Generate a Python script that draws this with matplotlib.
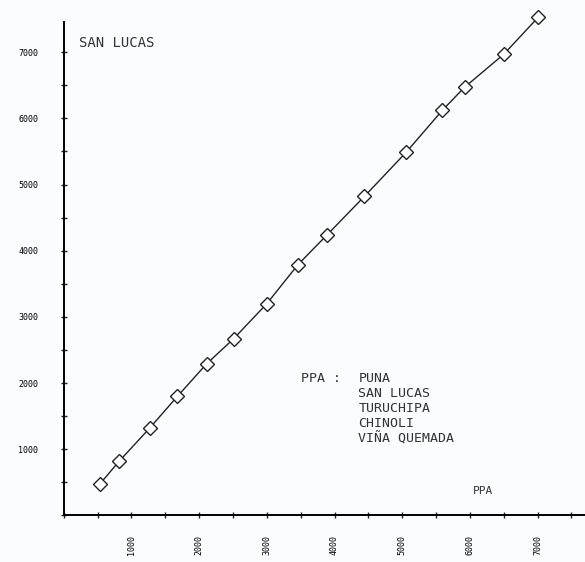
import matplotlib.pyplot as plt
from matplotlib.ticker import MultipleLocator

# PPA readings for San Lucas
ppa_x = [530, 820, 1270, 1680, 2110, 2510, 3000, 3460, 3890, 4440, 5060, 5590, 5920, 6500, 7010]
ppa_y = [470, 820, 1320, 1800, 2290, 2670, 3200, 3790, 4240, 4820, 5490, 6120, 6470, 6970, 7530]

x_ticks = [1000, 2000, 3000, 4000, 5000, 6000, 7000]
y_ticks = [1000, 2000, 3000, 4000, 5000, 6000, 7000]
stations = ["PUNA", "SAN LUCAS", "TURUCHIPA", "CHINOLI", "VIÑA QUEMADA"]

plt.rcParams['font.family'] = ['DejaVu Sans Mono']

fig = plt.figure(figsize=(5.85, 5.62), dpi=100)
fig.patch.set_facecolor('#fbfcfd')
ax = fig.add_axes([0.109, 0.083, 0.891, 0.877])
ax.set_facecolor('#fbfcfd')

ax.plot(ppa_x, ppa_y, color='#222222', linewidth=1.0, marker='D', markersize=7,
        markerfacecolor='white', markeredgecolor='#222222', markeredgewidth=1.0,
        clip_on=False)

ax.set_xlim(0, 7700)
ax.set_ylim(0, 7450)
ax.spines['top'].set_visible(False)
ax.spines['right'].set_visible(False)
ax.spines['left'].set_linewidth(1.4)
ax.spines['bottom'].set_linewidth(1.4)

ax.set_xticks(x_ticks)
ax.set_yticks(y_ticks)
ax.xaxis.set_minor_locator(MultipleLocator(500))
ax.yaxis.set_minor_locator(MultipleLocator(500))
ax.set_xticklabels([str(v) for v in x_ticks], rotation=90, fontsize=6)
ax.set_yticklabels([str(v) for v in y_ticks], fontsize=6)
ax.tick_params(which='both', direction='inout', length=5, width=1.0, color='#222222')
ax.tick_params(axis='y', which='major', pad=16)
ax.tick_params(axis='x', which='major', pad=12)

ax.text(0.03, 0.958, "SAN LUCAS", transform=ax.transAxes, fontsize=10,
        color='#333333', va='center')
ax.text(0.455, 0.29, "PPA : ", transform=ax.transAxes, fontsize=9.5,
        color='#333333', va='top')
ax.text(0.565, 0.29, "\n".join(stations), transform=ax.transAxes, fontsize=9.5,
        color='#333333', va='top', linespacing=1.2)
ax.text(0.785, 0.05, "PPA", transform=ax.transAxes, fontsize=8,
        color='#333333', va='center')

fig.savefig('out.png', dpi=100, facecolor=fig.get_facecolor())
